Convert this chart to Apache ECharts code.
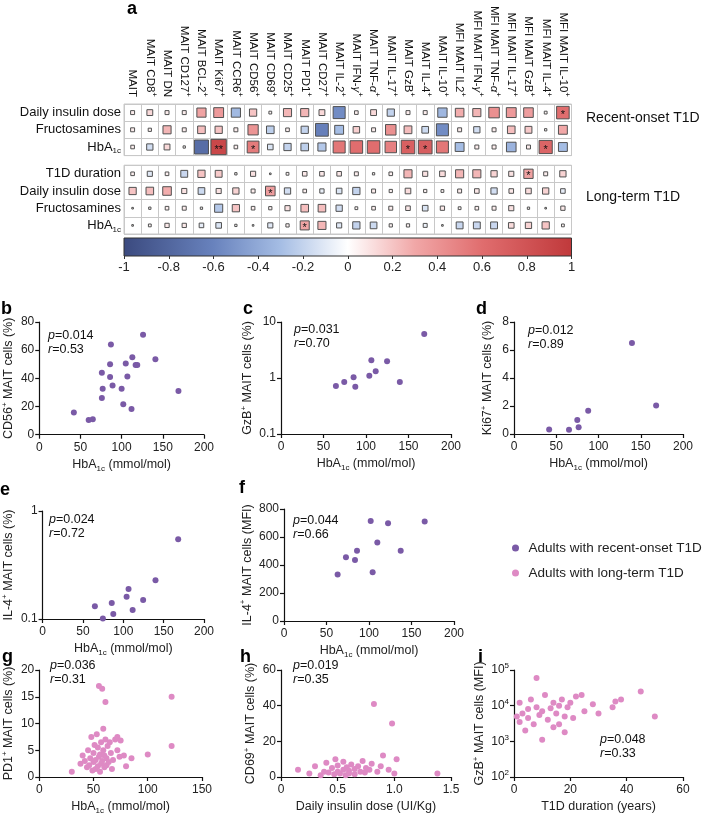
<!DOCTYPE html>
<html><head><meta charset="utf-8">
<script src="https://cdn.jsdelivr.net/npm/echarts@6/dist/echarts.min.js"></script>
<style>html,body{margin:0;padding:0;background:#fff}#c{width:707px;height:839px}</style>
</head><body><div id="c"></div>
<script>
// ---------------- DATA ----------------
const columns = ['MAIT','MAIT CD8+','MAIT DN','MAIT CD127+','MAIT BCL-2+','MAIT Ki67+','MAIT CCR6+','MAIT CD56+','MAIT CD69+','MAIT CD25+','MAIT PD1+','MAIT CD27+','MAIT IL-2+','MAIT IFN-γ+','MAIT TNF-α+','MAIT IL-17+','MAIT GzB+','MAIT IL-4+','MAIT IL-10+','MFI MAIT IL2+','MFI MAIT IFN-γ+','MFI MAIT TNF-α+','MFI MAIT IL-17+','MFI MAIT GzB+','MFI MAIT IL-4+','MFI MAIT IL-10+'];
const recentRows = ['Daily insulin dose','Fructosamines','HbA1c'];
const recentDaily  = [0.06,0.13,0.06,0.06,0.32,0.37,-0.32,0.2,0.03,0.25,0.25,0.13,-0.55,0.05,0.13,-0.2,0.06,0.06,-0.33,0.28,0.25,0.42,0.37,0.35,0.03,0.6];
const recentFructo = [0.06,0.04,0.25,0.06,0.22,0.2,0.06,0.4,-0.22,0.05,-0.2,-0.62,-0.3,0.16,0.06,0.42,0.23,-0.17,-0.55,0.06,-0.15,0.06,0.22,0.18,0.02,0.3];
const recentHba1c  = [0.05,-0.15,0.13,0.02,-0.75,0.89,0.05,0.53,-0.12,-0.2,-0.22,-0.25,0.55,0.6,0.6,0.5,0.7,0.72,0.55,-0.3,0.06,0.06,-0.35,0.06,0.66,-0.3];
const recentStars = [[0,25,'*'],[2,5,'**'],[2,7,'*'],[2,16,'*'],[2,17,'*'],[2,24,'*']];
const longRows = ['T1D duration','Daily insulin dose','Fructosamines','HbA1c'];
const longDuration = [0.05,-0.1,0.05,-0.18,0.2,0.18,0.02,0.1,0.01,0.03,0.08,0.08,0.08,0.06,0.02,0.05,0.25,0.1,0.12,0.25,0.25,0.15,0.1,0.33,0.06,0.15];
const longDaily    = [0.2,0.22,0.28,0.1,-0.17,0.1,0.15,0.06,0.35,-0.15,0.05,-0.07,-0.12,-0.2,0.06,0.04,0.12,0.04,0.03,0.06,0.08,-0.15,0.08,0.12,0.15,-0.08];
const longFructo   = [0.01,0.02,0.05,0.06,0.02,-0.25,0.2,0.05,0.04,0.1,0.22,0.22,-0.15,0.03,0.05,0.06,0.08,-0.12,0.07,0.03,0.05,0.06,0.1,0.02,0.01,0.07];
const longHba1c    = [0.01,0.03,0.07,0.07,-0.08,-0.12,0.02,0.01,-0.1,0.04,0.31,0.25,-0.1,-0.2,-0.17,0.04,0.04,-0.06,0.01,-0.18,-0.18,-0.18,0.12,0.15,0.2,0.03];
const longStars = [[0,23,'*'],[1,8,'*'],[3,10,'*']];
const colorbarTicks = [-1,-0.8,-0.6,-0.4,-0.2,0,0.2,0.4,0.6,0.8,1];

const panelB = [[126,71],[87,64],[113,55],[141,53.6],[86,50],[105,50.5],[117,49.5],[119,49.5],[76,44],[86,41],[107,41.4],[89,35],[77,32.6],[100,32.6],[169,31],[76,26],[102,21.7],[112,18.3],[42,15.7],[60,10.5],[65,11]];
const panelC = [[168.5,6.1],[106.3,2.08],[124.8,2.0],[111.4,1.32],[103.9,1.1],[85.4,1.03],[74.4,0.85],[139.8,0.85],[64.6,0.72],[87.4,0.70]];
const panelD = [[139.6,6.5],[168.2,2.04],[87.8,1.66],[74.9,1.0],[76.5,0.48],[41.6,0.33],[65.1,0.31]];
const panelE = [[168,0.548],[139.9,0.229],[106.5,0.19],[104.1,0.161],[124.6,0.15],[85.7,0.141],[64.8,0.131],[111.6,0.121],[87.6,0.111],[74.7,0.101]];
const panelF = [[102,715],[122.4,698],[165.5,710],[109.8,561],[85.9,502],[137.3,502],[72.9,455],[83.5,436],[104.3,349],[63.1,332]];
const panelG = [[30,1],[38,2.5],[40,4],[42,3],[44,1.8],[45,5],[46,2.2],[47,3.5],[48,7.5],[49,1.2],[50,4.5],[50,2.8],[51,6],[52,3.2],[52,1.5],[53,8],[54,2],[54,5.5],[55,3.8],[55,17],[56,1],[56,4.2],[57,6.5],[57,2.5],[58,16.5],[58,3],[59,9],[59,5],[60,1.8],[60,4],[61,7],[61,14],[62,2.2],[62,3.5],[63,5.8],[64,2.8],[65,6.5],[66,4.5],[67,1.5],[68,3.2],[70,7],[72,5],[72,7.5],[74,3.8],[75,6.8],[78,4],[80,2],[85,3.5],[100,4.2],[122,15],[122,5.8]];
const panelH = [[0.15,4],[0.25,2],[0.3,6],[0.35,1],[0.38,3],[0.4,8],[0.42,2.5],[0.45,5],[0.47,1.5],[0.48,10],[0.5,3],[0.5,6.5],[0.52,2],[0.55,4],[0.55,8.5],[0.57,1],[0.58,5.5],[0.6,3.5],[0.6,2],[0.62,7],[0.65,4.5],[0.65,1.5],[0.68,6],[0.7,3],[0.72,9],[0.74,2.5],[0.75,5],[0.78,4],[0.8,7.5],[0.82,41],[0.85,3],[0.88,6],[0.9,12],[0.95,4],[0.98,30],[1.0,2],[1.02,10],[1.38,2]];
const panelI = [[1,5000],[2,3500],[2,12000],[3,6000],[4,2000],[5,8000],[5,4500],[6,15000],[7,3000],[8,60000],[8,9000],[9,5500],[10,1100],[10,7000],[11,20000],[12,4000],[13,8500],[14,2500],[14,12000],[15,6000],[16,3000],[16,10000],[17,15000],[18,5000],[18,1800],[19,9000],[20,12000],[21,4500],[22,18000],[24,20000],[25,7000],[28,11000],[30,6000],[35,9000],[36,13000],[38,15000],[45,25000],[50,5000]];
const statsText = {b:['0.014','0.53'],c:['0.031','0.70'],d:['0.012','0.89'],e:['0.024','0.72'],f:['0.044','0.66'],g:['0.036','0.31'],h:['0.019','0.35'],i:['0.048','0.33']};
const seriesNames = ['Adults with recent-onset T1D','Adults with long-term T1D'];

// ---------------- STYLE / HELPERS ----------------
const FONT = '"Liberation Sans", Arial, Helvetica, sans-serif';
const PURPLE = '#7a5aa6', PINK = '#de8ac4';
const cStops = [[-1,[59,74,127]],[-0.6,[104,130,189]],[-0.3,[165,189,228]],[0,[255,255,255]],[0.3,[241,167,167]],[0.6,[224,109,110]],[1,[192,57,59]]];
function corrColor(v){
  for(let i=0;i<cStops.length-1;i++){
    const a=cStops[i],b=cStops[i+1];
    if(v<=b[0]){const t=(v-a[0])/(b[0]-a[0]);
      const c=a[1].map((x,k)=>Math.round(x+(b[1][k]-x)*t));
      return 'rgb('+c.join(',')+')';}
  }
  return 'rgb(192,57,59)';
}
function rich(fs){
  return {
    s:{fontSize:8,verticalAlign:'top',lineHeight:16,fontFamily:FONT,color:'#111'},
    b:{fontSize:8,verticalAlign:'bottom',lineHeight:16,fontFamily:FONT,color:'#111'},
    g:{fontStyle:'italic',fontSize:fs,lineHeight:16,fontFamily:FONT,color:'#111'},
    i:{fontStyle:'italic',fontSize:fs,lineHeight:16,fontFamily:FONT,color:'#111'}
  };
}
function markup(s){
  return s.replace('HbA1c','HbA{b|1c}').replace(/γ/g,'{g|γ}').replace(/α/g,'{g|α}').replace(/\+$/,'{s|+}').replace(/\+ /,'{s|+} ');
}
function heatData(rows,stars){
  const out=[];
  rows.forEach((arr,r)=>arr.forEach((v,c)=>{
    const st=stars.find(s=>s[0]===r&&s[1]===c);
    out.push({value:[c,r,v],star:st?st[2]:''});
  }));
  return out;
}

const grids = [
  {left:124,top:104,width:447.5,height:51.6},
  {left:124,top:165.2,width:447.5,height:68.8},
  {left:124,top:238,width:447.5,height:18},
  {left:35,top:322,width:169,height:112.7},
  {left:281,top:322,width:170,height:112},
  {left:514,top:322,width:169,height:112},
  {left:35,top:511,width:169,height:108},
  {left:284,top:509,width:170,height:112},
  {left:35,top:670,width:167,height:107},
  {left:281,top:670,width:170,height:107},
  {left:514,top:670,width:169,height:107}
];
grids.forEach(g=>{g.containLabel=false;});
grids[0].show=true;grids[0].borderColor='#c8c8c8';grids[0].borderWidth=1;
grids[1].show=true;grids[1].borderColor='#c8c8c8';grids[1].borderWidth=1;
grids[2].show=true;grids[2].borderColor='#333';grids[2].borderWidth=1;
grids[2].backgroundColor={type:'linear',x:0,y:0,x2:1,y2:0,colorStops:cStops.map(s=>({offset:(s[0]+1)/2,color:'rgb('+s[1].join(',')+')'}))};

function baseAxis(){
  return {
    axisLine:{show:true,onZero:false,lineStyle:{color:'#111',width:1.2}},
    axisTick:{show:true,length:4,lineStyle:{color:'#111',width:1.2}},
    axisLabel:{fontSize:12,color:'#222',fontFamily:FONT,margin:5,lineHeight:16,rich:rich(12)},
    splitLine:{show:false},
    nameLocation:'middle',
    nameTextStyle:{fontSize:12.5,color:'#222',fontFamily:FONT,lineHeight:16,rich:rich(12.5)}
  };
}
function xA(grid,type,min,max,interval,name,gap,fmt){
  const a=baseAxis();
  Object.assign(a,{gridIndex:grid,type:type,min:min,max:max,name:name,nameGap:gap});
  if(interval) a.interval=interval;
  if(fmt) a.axisLabel.formatter=fmt;
  return a;
}
function yA(grid,type,min,max,interval,name,gap,fmt){
  const a=baseAxis();
  Object.assign(a,{gridIndex:grid,type:type,min:min,max:max,name:name,nameGap:gap});
  if(interval) a.interval=interval;
  if(fmt) a.axisLabel.formatter=fmt;
  if(type==='log') a.logBase=10;
  return a;
}
const hba = 'HbA{b|1c} (mmol/mol)';
const xAxes = [
  {gridIndex:0,type:'category',data:columns,position:'top',boundaryGap:true,
   axisLine:{show:false},axisTick:{show:false},
   axisLabel:{rotate:90,interval:0,fontSize:11.5,lineHeight:16,margin:7,color:'#111',fontFamily:FONT,formatter:v=>markup(v),rich:rich(11.5)},
   splitLine:{show:true,interval:0,lineStyle:{color:'#c8c8c8',width:1}}},
  {gridIndex:1,type:'category',data:columns,position:'top',boundaryGap:true,
   axisLine:{show:false},axisTick:{show:false},axisLabel:{show:false},
   splitLine:{show:true,interval:0,lineStyle:{color:'#c8c8c8',width:1}}},
  {gridIndex:2,type:'value',min:-1,max:1,interval:0.2,position:'bottom',
   axisLine:{show:false},axisTick:{show:true,length:3,lineStyle:{color:'#333'}},
   axisLabel:{fontSize:13,color:'#222',fontFamily:FONT,margin:5,formatter:v=>String(Math.round(v*10)/10)},
   splitLine:{show:false}},
  xA(3,'value',0,200,50,hba,20),
  xA(4,'value',0,200,50,hba,20),
  xA(5,'value',0,200,50,hba,20),
  xA(6,'value',0,200,50,hba,19),
  xA(7,'value',0,200,50,hba,19),
  xA(8,'value',0,150,50,hba,20),
  xA(9,'value',0,1.5,0.5,'Daily insulin dose (UI/Kg)',20,v=>v===0?'0':v.toFixed(1)),
  xA(10,'value',0,60,20,'T1D duration (years)',20)
];
const yAxes = [
  {gridIndex:0,type:'category',data:recentRows,inverse:true,boundaryGap:true,
   axisLine:{show:false},axisTick:{show:false},
   axisLabel:{fontSize:13,color:'#111',margin:3,fontFamily:FONT,lineHeight:16,formatter:v=>markup(v),rich:rich(13)},
   splitLine:{show:true,interval:0,lineStyle:{color:'#c8c8c8',width:1}}},
  {gridIndex:1,type:'category',data:longRows,inverse:true,boundaryGap:true,
   axisLine:{show:false},axisTick:{show:false},
   axisLabel:{fontSize:13,color:'#111',margin:3,fontFamily:FONT,lineHeight:16,formatter:v=>markup(v),rich:rich(13)},
   splitLine:{show:true,interval:0,lineStyle:{color:'#c8c8c8',width:1}}},
  {gridIndex:2,type:'value',min:0,max:1,show:false},
  yA(3,'value',0,80,20,'CD56{s|+} MAIT cells (%)',18),
  yA(4,'log',0.1,10,null,'GzB{s|+} MAIT cells (%)',18),
  yA(5,'value',0,8,2,'Ki67{s|+} MAIT cells (%)',18),
  yA(6,'log',0.1,1,null,'IL-4{s|+} MAIT cells (%)',18),
  yA(7,'value',0,800,200,'IL-4{s|+} MAIT cells (MFI)',22),
  yA(8,'value',0,20,5,'PD1{s|+} MAIT cells (%)',18),
  yA(9,'value',0,60,20,'CD69{s|+} MAIT cells (%)',18),
  yA(10,'log',100,100000,null,'GzB{s|+} MAIT cells (MFI)',22,v=>'10{s|'+Math.round(Math.log10(v))+'}')
];

function heatSeries(idx,rows,stars){
  return {type:'scatter',name:'heat'+idx,xAxisIndex:idx,yAxisIndex:idx,symbol:'rect',
    symbolSize:d=>Math.max(1.6,Math.sqrt(Math.abs(d[2]))*16.2),
    data:heatData(rows,stars),silent:true,z:3,
    itemStyle:{color:p=>corrColor(p.value[2]),borderColor:'#505050',borderWidth:1,opacity:1},
    label:{show:true,position:'inside',formatter:p=>p.data.star,fontSize:11,color:'#111',offset:[0,2.5],fontFamily:FONT}};
}
function sc(idx,data,recent){
  return {type:'scatter',name:recent?seriesNames[0]:seriesNames[1],xAxisIndex:idx,yAxisIndex:idx,
    data:data,symbolSize:6,itemStyle:{color:recent?PURPLE:PINK,opacity:1},silent:true};
}

const titles = [];
function T(text,left,top,style){titles.push({text:text,left:left,top:top,padding:0,textStyle:Object.assign({fontFamily:FONT,color:'#111',fontWeight:'normal'},style)});}
const bold = {fontSize:18,fontWeight:'bold',color:'#000'};
T('a',127,0,bold);
T('b',1,300,bold);T('c',243,300,bold);T('d',476,300,bold);
T('e',0,481,bold);T('f',239,479,bold);
T('g',2,648,bold);T('h',240,648,bold);T('i',478,648,bold);
T('Recent-onset T1D',586,111,{fontSize:14,color:'#111'});
T('Long-term T1D',586,190,{fontSize:14,color:'#111'});
const statPos = {b:[48,329],c:[294,323],d:[528,324],e:[49,513],f:[293,514],g:[50,659],h:[293,659],i:[600,733]};
Object.keys(statPos).forEach(k=>{
  T('{i|p}=' + statsText[k][0] + '\n{i|r}=' + statsText[k][1], statPos[k][0], statPos[k][1],
    {fontSize:12.5,lineHeight:13.5,color:'#111',rich:{i:{fontStyle:'italic',fontSize:12.5,lineHeight:13.5,fontFamily:FONT,color:'#111',fontWeight:'normal'}}});
});

const option = {
  animation:false,
  backgroundColor:'#fff',
  textStyle:{fontFamily:FONT},
  title:titles,
  grid:grids,
  xAxis:xAxes,
  yAxis:yAxes,
  legend:{data:seriesNames,orient:'vertical',left:512,top:540,itemWidth:16,itemHeight:7,itemGap:9,icon:'circle',
    padding:0,selectedMode:false,textStyle:{fontSize:13.5,color:'#222',lineHeight:16,fontFamily:FONT}},
  series:[
    heatSeries(0,[recentDaily,recentFructo,recentHba1c],recentStars),
    heatSeries(1,[longDuration,longDaily,longFructo,longHba1c],longStars),
    sc(3,panelB,true),sc(4,panelC,true),sc(5,panelD,true),sc(6,panelE,true),sc(7,panelF,true),
    sc(8,panelG,false),sc(9,panelH,false),sc(10,panelI,false)
  ]
};
const chart = echarts.init(document.getElementById('c'),null,{renderer:'canvas'});
chart.setOption(option);
</script></body></html>
